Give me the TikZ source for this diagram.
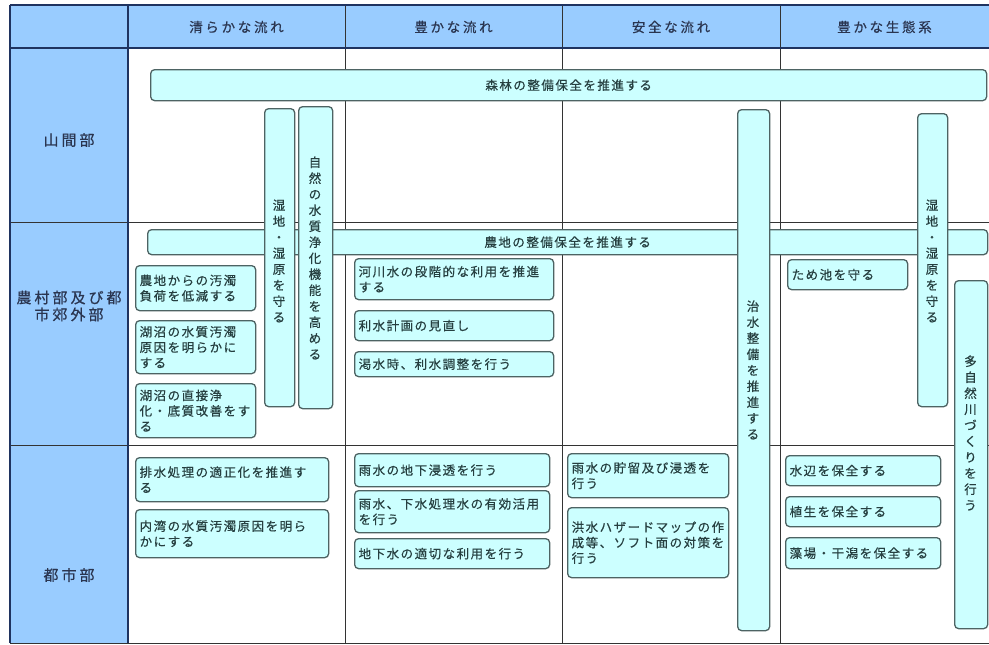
\documentclass[tikz,border=0pt]{standalone}
\usepackage{fontspec}
\setmainfont{Noto Sans CJK JP}
\newfontfamily\boxfont[LetterSpace=12,FakeBold=0.5]{Noto Sans CJK JP}
\newfontfamily\hdrfont[LetterSpace=20,FakeBold=0.5]{Noto Sans CJK JP}
\definecolor{hdrfill}{HTML}{99CCFF}
\definecolor{boxfill}{HTML}{CCFFFF}
\definecolor{boxline}{HTML}{4D6363}
\definecolor{txt}{HTML}{263F40}
\definecolor{hdrtxt}{HTML}{2A3550}
\definecolor{navy}{HTML}{1F3360}
\definecolor{gridc}{HTML}{333333}
\newcommand\tbox[6]{%
  \pgfmathsetmacro\bw{#4-#2}\pgfmathsetmacro\bh{#5-#3}\pgfmathsetmacro\tw{#4-#2-8}%
  \node[tb, minimum width=\bw pt, minimum height=\bh pt, text width=\tw pt] (#1) at (#2,#3) {#6};}
\newcommand\vtbox[5]{%
  \pgfmathsetmacro\bw{#4-#2}\pgfmathsetmacro\bh{#5-#3}%
  \node[vb, minimum width=\bw pt, minimum height=\bh pt] (#1) at (#2,#3) {};}
\begin{document}
\begin{tikzpicture}[x=1pt,y=-1pt,
  box/.style={draw=boxline, fill=boxfill, line width=1.3pt, rounded corners=4pt},
  tb/.style={box, anchor=north west, align=left, inner xsep=4pt, inner ysep=0pt,
     text=txt, font=\boxfont\fontsize{12.5}{15.5}\selectfont},
  vb/.style={box, anchor=north west, inner sep=0pt},
  bar/.style={box, anchor=north west, inner sep=0pt, text=txt, font=\boxfont\fontsize{12.5}{15.5}\selectfont},
  vtext/.style={align=center, inner sep=0pt, text=txt, font=\boxfont\fontsize{12.5}{16}\selectfont},
  hdr/.style={inner sep=0pt, text=hdrtxt, font=\hdrfont\fontsize{13.5}{16}\selectfont},
  side/.style={align=center, inner sep=0pt, text=hdrtxt, font=\hdrfont\fontsize{15}{17}\selectfont}]
\useasboundingbox (0,0) rectangle (989,645);
% fills
\fill[white] (0,0) rectangle (989,645);
\fill[hdrfill] (10,5) rectangle (989,48);
\fill[hdrfill] (10,48) rectangle (128,643);
% grid lines
\draw[gridc, line width=1pt] (345,5) -- (345,643) (562,5) -- (562,643) (780,5) -- (780,643);
\draw[gridc, line width=1pt] (10,222) -- (989,222) (10,445) -- (989,445) (10,643) -- (989,643);
\draw[navy, line width=1.5pt] (10,5) -- (989,5) (10,48) -- (989,48) (10,5) -- (10,643) (128,5) -- (128,643);
% headers
\node[hdr] (h1) at (236.5,27) {清らかな流れ};
\node[hdr] (h2) at (453.5,27) {豊かな流れ};
\node[hdr] (h3) at (671,27) {安全な流れ};
\node[hdr] (h4) at (884.5,27) {豊かな生態系};
\node[side] (r1) at (69,140) {山間部};
\node[side] (r2) at (69,306) {農村部及び都\\市郊外部};
\node[side] (r3) at (69,575) {都市部};
% horizontal bars
\node[bar, minimum width=836pt, minimum height=31pt] (forest) at (150,69) {森林の整備保全を推進する};
\node[bar, minimum width=840pt, minimum height=25pt] (farm) at (147,229) {農地の整備保全を推進する};
% vertical bars
\vtbox{v1}{264}{108}{294}{406}
\node[vtext] (v1t) at (279,261) {湿\\地\\・\\湿\\原\\を\\守\\る};
\vtbox{v2}{298}{106}{332}{408}
\node[vtext] (v2t) at (315,258) {自\\然\\の\\水\\質\\浄\\化\\機\\能\\を\\高\\め\\る};
\vtbox{v3}{737}{109}{769}{630}
\node[vtext] (v3t) at (753,370) {治\\水\\整\\備\\を\\推\\進\\す\\る};
\vtbox{v4}{917}{113}{947}{406}
\node[vtext] (v4t) at (932,261) {湿\\地\\・\\湿\\原\\を\\守\\る};
\vtbox{v5}{954}{280}{987}{628}
\node[vtext] (v5t) at (970.5,433) {多\\自\\然\\川\\づ\\く\\り\\を\\行\\う};
% rural boxes
\tbox{b1}{135}{265}{255}{310}{農地からの汚濁\\負荷を低減する}
\tbox{b2}{135}{320}{255}{373}{湖沼の水質汚濁\\原因を明らかに\\する}
\tbox{b3}{135}{383}{255}{437}{湖沼の直接浄\\化・底質改善をす\\る}
\tbox{b4}{354}{258}{553}{299}{河川水の段階的な利用を推進\\する}
\tbox{b5}{354}{310}{553}{340}{利水計画の見直し}
\tbox{b6}{354}{351}{553}{376}{渇水時、利水調整を行う}
\tbox{b7}{787}{259}{907}{289}{ため池を守る}
% urban boxes
\tbox{b8}{135}{457}{328}{501}{排水処理の適正化を推進す\\る}
\tbox{b9}{135}{509}{328}{557}{内湾の水質汚濁原因を明ら\\かにする}
\tbox{b10}{354}{453}{549}{486}{雨水の地下浸透を行う}
\tbox{b11}{354}{490}{549}{532}{雨水、下水処理水の有効活用\\を行う}
\tbox{b12}{354}{538}{549}{568}{地下水の適切な利用を行う}
\tbox{b13}{567}{453}{728}{497}{雨水の貯留及び浸透を\\行う}
\tbox{b14}{567}{507}{728}{577}{洪水ハザードマップの作\\成等、ソフト面の対策を\\行う}
\tbox{b15}{785}{455}{940}{485}{水辺を保全する}
\tbox{b16}{785}{496}{940}{526}{植生を保全する}
\tbox{b17}{785}{537}{940}{568}{藻場・干潟を保全する}
\end{tikzpicture}
\end{document}
